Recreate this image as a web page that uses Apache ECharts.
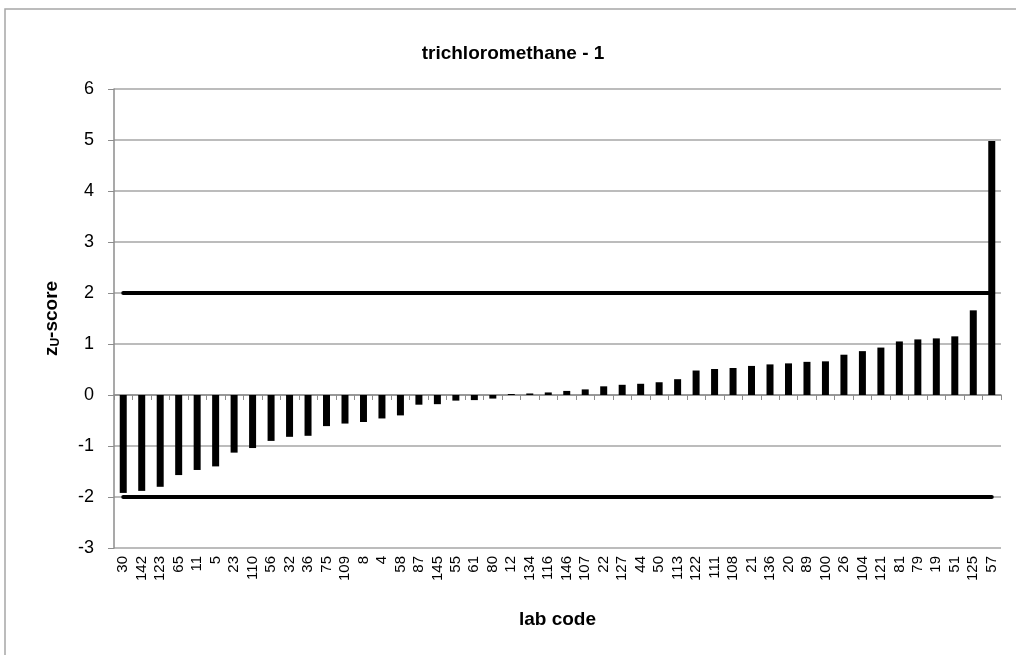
<!DOCTYPE html>
<html>
<head>
<meta charset="utf-8">
<script src="https://cdn.jsdelivr.net/npm/echarts@6/dist/echarts.min.js"></script>
<style>
html,body{margin:0;padding:0;background:#fff;}
#chart{width:1016px;height:655px;}
</style>
</head>
<body>
<div id="chart"></div>
<script>
const labCodes = ['30','142','123','65','11','5','23','110','56','32','36','75','109','8','4','58','87','145','55','61','80','12','134','116','146','107','22','127','44','50','113','122','111','108','21','136','20','89','100','26','104','121','81','79','19','51','125','57'];
const zScores = [-1.92,-1.88,-1.80,-1.57,-1.47,-1.40,-1.13,-1.04,-0.90,-0.82,-0.80,-0.61,-0.56,-0.53,-0.46,-0.40,-0.19,-0.18,-0.11,-0.10,-0.07,0.02,0.03,0.05,0.08,0.11,0.17,0.20,0.22,0.25,0.31,0.48,0.51,0.53,0.57,0.60,0.62,0.65,0.66,0.79,0.86,0.93,1.05,1.09,1.11,1.15,1.66,4.98];
const upperLimit = labCodes.map(() => 2);
const lowerLimit = labCodes.map(() => -2);
const yTicks = { min: -3, max: 6, interval: 1 };

const chart = echarts.init(document.getElementById('chart'), null, { renderer: 'canvas' });
const option = {
  backgroundColor: '#ffffff',
  animation: false,
  title: {
    text: 'trichloromethane - 1',
    left: 508, top: 39, textAlign: 'center',
    textStyle: { fontFamily: 'Liberation Sans', fontWeight: 'bold', fontSize: 19, color: '#000' }
  },
  graphic: [{
    type: 'rect', shape: { x: 5, y: 9, width: 1030, height: 660 },
    style: { fill: 'none', stroke: '#a6a6a6', lineWidth: 1.5 }, silent: true, z: -1
  }],
  grid: { left: 114, right: 15, top: 89, bottom: 107, containLabel: false },
  xAxis: [{
    type: 'category', data: labCodes, position: 'bottom', boundaryGap: true,
    axisLine: { show: false, onZero: false },
    axisTick: { show: false },
    axisLabel: { rotate: 90, interval: 0, margin: 8, fontFamily: 'Liberation Sans', fontSize: 15, color: '#000' },
    name: 'lab code', nameLocation: 'middle', nameGap: 62,
    nameTextStyle: { fontFamily: 'Liberation Sans', fontWeight: 'bold', fontSize: 19, color: '#000' }
  }, {
    type: 'category', data: labCodes, position: 'bottom', boundaryGap: true,
    axisLine: { show: true, onZero: true, lineStyle: { color: '#8c8c8c', width: 1.5 } },
    axisTick: { show: true, length: 5, inside: false, interval: 0, lineStyle: { color: '#8c8c8c' } },
    axisLabel: { show: false }
  }],
  yAxis: {
    type: 'value', min: yTicks.min, max: yTicks.max, interval: yTicks.interval,
    axisLine: { show: true, lineStyle: { color: '#8c8c8c', width: 1.5 } },
    axisTick: { show: true, length: 6, lineStyle: { color: '#8c8c8c' } },
    splitLine: { show: true, lineStyle: { color: '#a6a6a6', width: 1.5 } },
    axisLabel: { margin: 20, fontFamily: 'Liberation Sans', fontSize: 18, color: '#000' },
    name: '{n|z}{s|U}{n|-score}', nameLocation: 'middle', nameGap: 52, nameRotate: 90,
    nameTextStyle: {
      rich: {
        n: { fontFamily: 'Liberation Sans', fontWeight: 'bold', fontSize: 19, color: '#000' },
        s: { fontFamily: 'Liberation Sans', fontWeight: 'bold', fontSize: 12, color: '#000', verticalAlign: 'bottom', padding: [9, 0, 0, 0] }
      }
    }
  },
  series: [{
    type: 'bar', data: zScores, xAxisIndex: 0, barWidth: 7,
    itemStyle: { color: '#000' }, z: 3
  }, {
    type: 'line', data: upperLimit, xAxisIndex: 0, symbol: 'none',
    lineStyle: { color: '#000', width: 4, cap: 'round' }, z: 4
  }, {
    type: 'line', data: lowerLimit, xAxisIndex: 0, symbol: 'none',
    lineStyle: { color: '#000', width: 4, cap: 'round' }, z: 4
  }]
};
chart.setOption(option);
</script>
</body>
</html>
